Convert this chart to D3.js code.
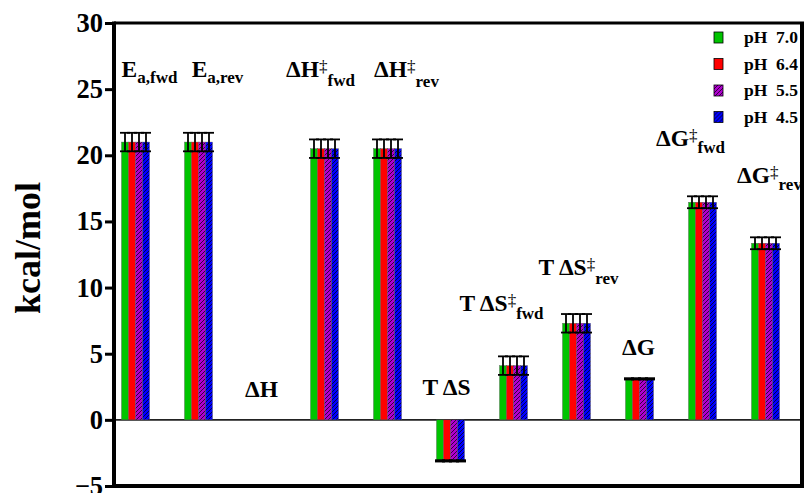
<!DOCTYPE html>
<html>
<head>
<meta charset="utf-8">
<script src="https://cdn.jsdelivr.net/npm/d3@7"></script>
<style>
  html, body { margin: 0; padding: 0; background: #fff; }
  svg { display: block; }
  svg text { font-family: "Liberation Serif", "Times New Roman", serif !important; font-weight: bold; }
</style>
</head>
<body>
<svg id="chart" width="806" height="493"></svg>
<script>
// ---- data ----
var categories = ["Ea,fwd", "Ea,rev", "dH", "dH#fwd", "dH#rev", "TdS", "TdS#fwd", "TdS#rev", "dG", "dG#fwd", "dG#rev"];
var labelMain = ["E", "E", "ΔH", "ΔH", "ΔH", "T\u2009ΔS", "T\u2009ΔS", "T\u2009ΔS", "ΔG", "ΔG", "ΔG"];
var labelSup = ["", "", "", "‡", "‡", "", "‡", "‡", "", "‡", "‡"];
var labelSub = ["a,fwd", "a,rev", "", "fwd", "rev", "", "fwd", "rev", "", "fwd", "rev"];
var series = ["pH 7.0", "pH 6.4", "pH 5.5", "pH 4.5"];
var values70 = [21.0, 21.0, 0, 20.5, 20.5, -3.1, 4.1, 7.3, 3.1, 16.45, 13.35];
var values64 = [21.0, 21.0, 0, 20.5, 20.5, -3.1, 4.1, 7.3, 3.1, 16.45, 13.35];
var values55 = [21.0, 21.0, 0, 20.5, 20.5, -3.1, 4.1, 7.3, 3.1, 16.45, 13.35];
var values45 = [21.0, 21.0, 0, 20.5, 20.5, -3.1, 4.1, 7.3, 3.1, 16.45, 13.35];
var errors = [0.7, 0.7, 0, 0.7, 0.7, 0.05, 0.7, 0.7, 0.05, 0.45, 0.45];
var yTicks = [-5, 0, 5, 10, 15, 20, 25, 30];

// label placement: dx from group centre (px), baseline in kcal/mol, subscript drop (px)
var labelDx = [14, 19, 0, -4, 19, -4, -12, 2, -1, -12, 4];
var labelAt = [25.9, 25.9, 1.75, 25.9, 25.9, 1.9, 8.2, 10.95, 4.9, 20.7, 17.9];
var labelSubDy = [6, 6, 0, 9, 10, 0, 8, 9, 0, 7, 7];

var colors = ["#00c400", "#ff0000", "#b000d0", "#0000ff"];
var hatched = [false, false, true, true];

var W = 806, H = 493;
var svg = d3.select("#chart");

var y = d3.scaleLinear().domain([-5, 30]).range([486, 23]);
var x = d3.scaleBand().domain(categories).range([104, 797]);
var xs = d3.scaleBand().domain(series).range([-14, 14]);
var plotL = 114, plotR = 802;

// ---- hatch patterns ----
var defs = svg.append("defs");
colors.forEach(function (c, i) {
  if (!hatched[i]) return;
  var p = defs.append("pattern").attr("id", "hatch" + i).attr("patternUnits", "userSpaceOnUse").attr("width", 4).attr("height", 4);
  p.append("rect").attr("width", 4).attr("height", 4).attr("fill", c);
  p.append("path").attr("d", "M-1,1 l2,-2 M0,4 l4,-4 M3,5 l2,-2").attr("stroke", "#000").attr("stroke-width", 0.7);
});
function fillOf(i) { return hatched[i] ? "url(#hatch" + i + ")" : colors[i]; }

// ---- bars ----
var allValues = [values70, values64, values55, values45];
var rows = [];
categories.forEach(function (c, ci) {
  series.forEach(function (s, si) { rows.push({ c: c, ci: ci, s: s, si: si, v: allValues[si][ci], e: errors[ci] }); });
});
function cx(d) { return x(d.c) + x.bandwidth() / 2 + xs(d.s) + xs.bandwidth() / 2; }

svg.append("line").attr("x1", plotL).attr("x2", plotR).attr("y1", y(0)).attr("y2", y(0)).attr("stroke", "#222").attr("stroke-width", 1.6);

svg.append("g").selectAll("rect").data(rows.filter(function (d) { return d.v !== 0; })).join("rect")
  .attr("x", function (d) { return cx(d) - xs.bandwidth() / 2; })
  .attr("width", xs.bandwidth())
  .attr("y", function (d) { return y(Math.max(0, d.v)); })
  .attr("height", function (d) { return Math.abs(y(d.v) - y(0)); })
  .attr("fill", function (d) { return fillOf(d.si); })
  .attr("stroke", "#555").attr("stroke-width", 0.4);

// ---- error bars ----
var eb = svg.append("g").attr("stroke", "#000").attr("stroke-width", 1.8);
var withErr = rows.filter(function (d) { return d.e > 0; });
eb.selectAll("line.v").data(withErr).join("line").attr("class", "v")
  .attr("x1", cx).attr("x2", cx)
  .attr("y1", function (d) { return y(d.v - d.e); }).attr("y2", function (d) { return y(d.v + d.e); });
[-1, 1].forEach(function (sgn) {
  eb.selectAll("line.c" + sgn).data(withErr).join("line").attr("class", "c" + sgn)
    .attr("x1", function (d) { return cx(d) - 5; }).attr("x2", function (d) { return cx(d) + 5; })
    .attr("y1", function (d) { return y(d.v + sgn * d.e); }).attr("y2", function (d) { return y(d.v + sgn * d.e); });
});

// ---- category labels ----
var lab = svg.append("g").attr("fill", "#000").attr("text-anchor", "middle");
categories.forEach(function (c, i) {
  var t = lab.append("text")
    .attr("x", x(c) + x.bandwidth() / 2 + labelDx[i])
    .attr("y", y(labelAt[i]));
  t.append("tspan").attr("font-size", 23.5).text(labelMain[i]);
  var supDy = 0;
  if (labelSup[i]) { supDy = -5; t.append("tspan").attr("font-size", 17).style("font-weight", "normal").attr("dy", supDy).text(labelSup[i]); }
  if (labelSub[i]) { t.append("tspan").attr("font-size", 17).attr("dy", labelSubDy[i] - supDy).text(labelSub[i]); }
});

// ---- axes & frame ----
var ax = svg.append("g").attr("transform", "translate(" + plotL + ",0)")
  .call(d3.axisLeft(y).tickValues(yTicks).tickSize(9).tickSizeOuter(0).tickPadding(2).tickFormat(d3.format("d")));
ax.select(".domain").remove();
ax.selectAll(".tick line").attr("stroke", "#000").attr("stroke-width", 3);
ax.selectAll(".tick text").attr("fill", "#000").attr("font-size", 26.5);

var fr = svg.append("g").attr("stroke", "#000").attr("fill", "none");
fr.append("line").attr("x1", plotL).attr("x2", plotL).attr("y1", y(30) - 1.5).attr("y2", y(-5) + 2).attr("stroke-width", 4);
fr.append("line").attr("x1", plotL).attr("x2", plotR + 2).attr("y1", y(30)).attr("y2", y(30)).attr("stroke-width", 3);
fr.append("line").attr("x1", plotR).attr("x2", plotR).attr("y1", y(30)).attr("y2", y(-5)).attr("stroke-width", 4);
fr.append("line").attr("x1", plotL - 2).attr("x2", plotR + 2).attr("y1", y(-5)).attr("y2", y(-5)).attr("stroke-width", 4);

svg.append("text").attr("transform", "translate(40," + 248 + ") rotate(-90)")
  .attr("text-anchor", "middle").attr("font-size", 36).attr("fill", "#000").text("kcal/mol");

// ---- legend ----
var lg = svg.append("g").attr("transform", "translate(714,32)");
series.forEach(function (s, i) {
  var r = lg.append("g").attr("transform", "translate(0," + (i * 26.5) + ")");
  r.append("rect").attr("width", 9).attr("height", 11).attr("fill", fillOf(i)).attr("stroke", "#000").attr("stroke-width", 0.8);
  r.append("text").attr("x", 30).attr("y", 11).attr("font-size", 17.5).attr("fill", "#000").text(s.replace(" ", "\u2002"));
});
</script>
</body>
</html>
